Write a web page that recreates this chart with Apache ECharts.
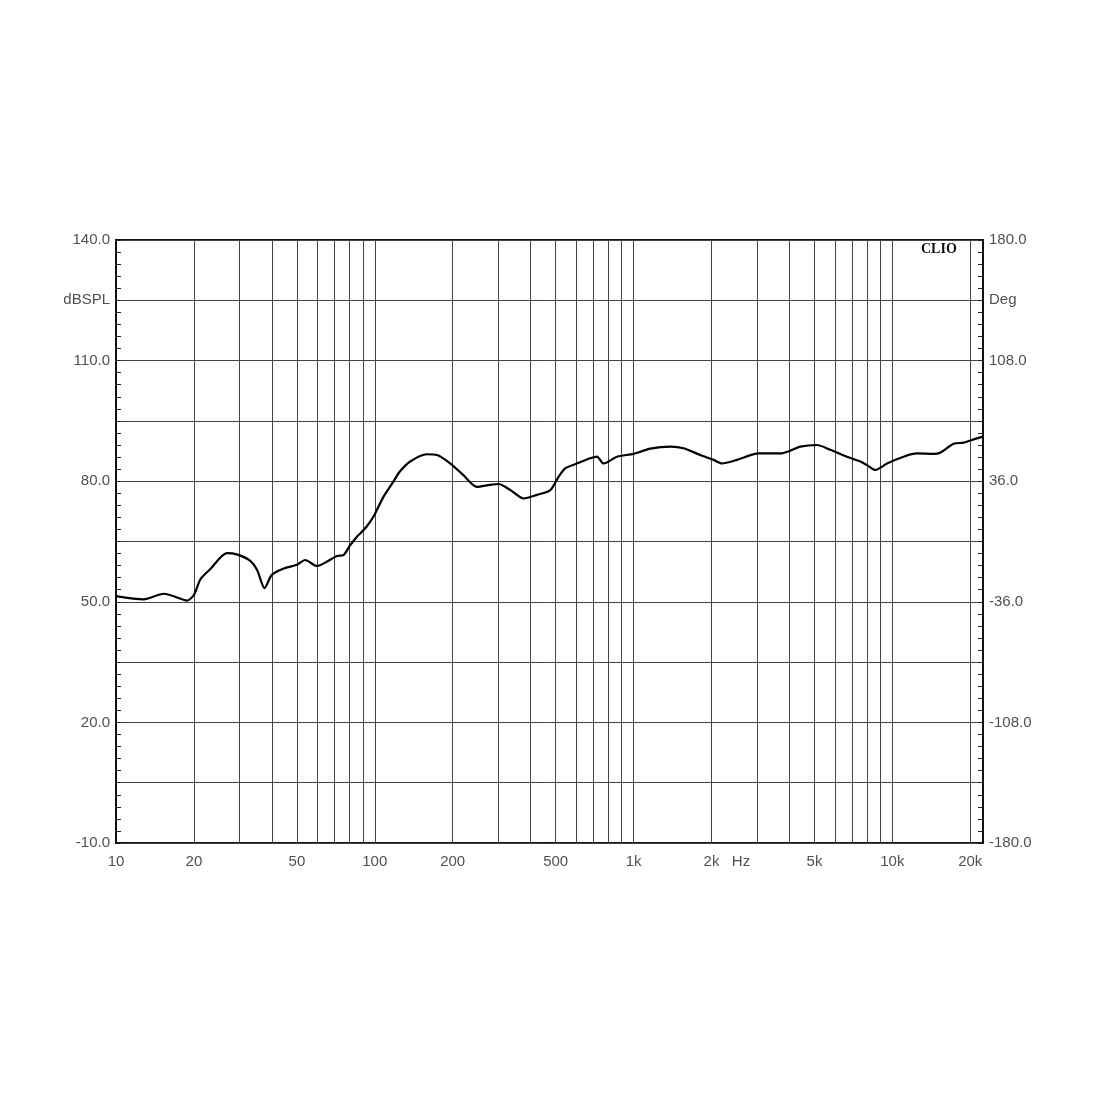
<!DOCTYPE html>
<html>
<head>
<meta charset="utf-8">
<script src="https://cdn.jsdelivr.net/npm/echarts@6/dist/echarts.min.js"></script>
<style>
html,body{margin:0;padding:0;background:#fff;}
#chart{width:1100px;height:1100px;}
</style>
</head>
<body>
<div id="chart"></div>
<script>
// ---- data ----
const freqHz = [10, 12.8, 15.3, 17, 18.8, 20, 21.2, 23.1, 26.8, 29.3, 33.0, 35.1, 37.5, 40, 44.5, 50, 53.8, 59.8, 65.4, 71.4, 75.7, 80, 85.3, 87.9, 93.2, 98.9, 108, 118, 125, 137, 159, 174, 196, 220, 248, 279, 301, 334, 376, 424, 477, 513, 544, 604, 680, 722, 766, 863, 1000, 1161, 1387, 1560, 1811, 2039, 2196, 2511, 3042, 3690, 4034, 4409, 5114, 5758, 6677, 7522, 7983, 8596, 9535, 11050, 12450, 14430, 15300, 17250, 18850, 20600, 22387];
const splDb = [51.4, 50.6, 52.0, 51.2, 50.3, 51.7, 55.6, 58.1, 62.1, 61.8, 60.2, 57.9, 53.4, 56.7, 58.3, 59.2, 60.4, 58.9, 60.0, 61.4, 61.6, 63.9, 66.2, 67.0, 68.8, 71.2, 76.1, 79.9, 82.4, 84.9, 86.7, 86.5, 84.4, 81.5, 78.6, 79.1, 79.3, 77.8, 75.7, 76.6, 77.8, 81.1, 83.2, 84.4, 85.7, 86.1, 84.4, 86.1, 86.8, 88.1, 88.6, 88.2, 86.5, 85.3, 84.4, 85.3, 86.9, 86.9, 87.6, 88.6, 89.0, 87.8, 86.1, 84.9, 84.0, 82.8, 84.4, 86.1, 86.9, 86.8, 87.1, 89.3, 89.6, 90.4, 91.1];

const xMinHz = 10;
const xMaxHz = 22400;
const xGridHz = [20,30,40,50,60,70,80,90,100,200,300,400,500,600,700,800,900,1000,2000,3000,4000,5000,6000,7000,8000,9000,10000,20000];
const xLabelHz = [10, 20, 50, 100, 200, 500, 1000, 2000, 2600, 5000, 10000, 20000];
const xLabelText = ['10', '20', '50', '100', '200', '500', '1k', '2k', 'Hz', '5k', '10k', '20k'];

const splMin = -10, splMax = 140, splStep = 15;
const splLabelStep = 30;
const splUnitAt = 125, splUnit = 'dBSPL';
const degMin = -180, degMax = 180, degStep = 36;
const degLabelStep = 72;
const degUnitAt = 144, degUnit = 'Deg';
const brand = 'CLIO';

// ---- build ----
const lg = v => Math.log10(v);
const seriesData = freqHz.map((f, i) => [lg(f), splDb[i]]);
const gridVals = xGridHz.map(lg);
const labelVals = xLabelHz.map(lg);

function xLabelFmt(v) {
  let best = -1, bd = 1e9;
  labelVals.forEach((lv, i) => { const d = Math.abs(lv - v); if (d < bd) { bd = d; best = i; } });
  return bd < 1e-6 ? xLabelText[best] : '';
}

const labelFont = {color: '#505050', fontSize: 15, fontFamily: 'Liberation Sans, Arial, sans-serif'};
const gridColor = '#444';

const chart = echarts.init(document.getElementById('chart'), null, {renderer: 'canvas'});
chart.setOption({
  animation: false,
  backgroundColor: '#fff',
  grid: {left: 116, right: 117, top: 240, bottom: 257, show: true, borderColor: '#111', borderWidth: 2, backgroundColor: 'transparent'},
  xAxis: {
    type: 'value', min: lg(xMinHz), max: lg(xMaxHz),
    axisLine: {show: false},
    axisTick: {show: false, customValues: gridVals},
    splitLine: {show: true, customValues: gridVals, lineStyle: {color: gridColor, width: 1}},
    axisLabel: Object.assign({show: true, customValues: labelVals, margin: 11, formatter: xLabelFmt, showMinLabel: true, showMaxLabel: true}, labelFont)
  },
  yAxis: [{
    type: 'value', min: splMin, max: splMax, interval: splStep, position: 'left',
    axisLine: {show: false},
    axisTick: {show: true, inside: true, length: 5, lineStyle: {color: '#222'}},
    minorTick: {show: true, splitNumber: 5, length: 5, lineStyle: {color: '#222'}},
    splitLine: {show: true, lineStyle: {color: gridColor, width: 1}},
    axisLabel: Object.assign({margin: 6, formatter: v => {
      if (Math.abs(v - splUnitAt) < 1e-6) return splUnit;
      if (Math.abs(((v - splMin) % splLabelStep)) < 1e-6) return v.toFixed(1);
      return '';
    }}, labelFont)
  }, {
    type: 'value', min: degMin, max: degMax, interval: degStep, position: 'right',
    axisLine: {show: false},
    axisTick: {show: true, inside: true, length: 5, lineStyle: {color: '#222'}},
    minorTick: {show: true, splitNumber: 5, length: 5, lineStyle: {color: '#222'}},
    splitLine: {show: false},
    axisLabel: Object.assign({margin: 6, formatter: v => {
      if (Math.abs(v - degUnitAt) < 1e-6) return degUnit;
      if (Math.abs(((v - degMin) % degLabelStep)) < 1e-6) return v.toFixed(1);
      return '';
    }}, labelFont)
  }],
  graphic: [{
    type: 'text', left: 921, top: 242, z: 100,
    style: {text: brand, fill: '#111', font: 'bold 14px "Liberation Serif", "DejaVu Serif", serif'}
  }],
  series: [{
    type: 'line', yAxisIndex: 0, data: seriesData, showSymbol: false, symbol: 'none',
    smooth: 0.25, z: 10,
    lineStyle: {color: '#000', width: 2.2}
  }]
});
</script>
</body>
</html>
